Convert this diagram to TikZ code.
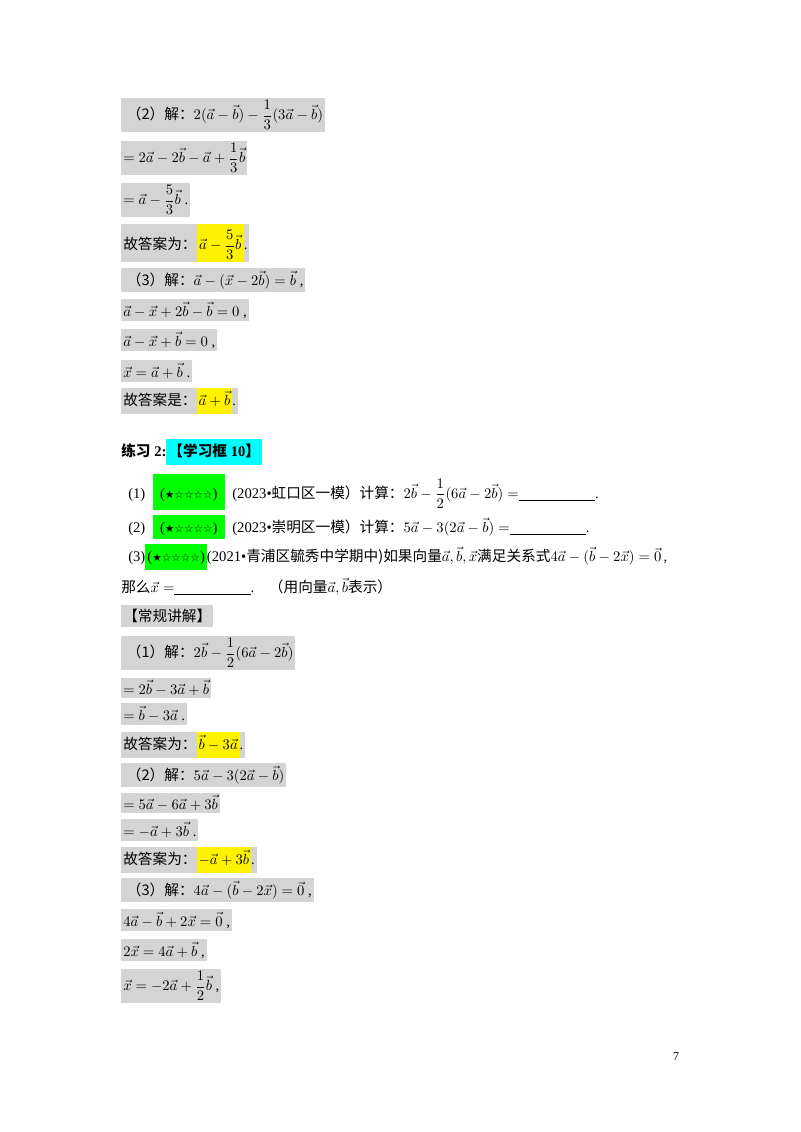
\documentclass[tikz,border=0pt]{standalone}
\usepackage{amsmath}
\usepackage{fontspec}
\setmainfont{Liberation Serif}
\newfontfamily\cjk{Noto Sans CJK SC}
\newfontfamily\sym{DejaVu Sans}
\usepackage{tikz}

\definecolor{aqua}{RGB}{0,255,255}
\definecolor{lime}{RGB}{0,255,0}
\tikzset{
  row/.style={fill=black!17, anchor=west, inner xsep=1.5pt, inner ysep=2pt, minimum height=17pt, font=\fontsize{11}{13}\selectfont},
  line/.style={anchor=west, inner sep=0pt, font=\fontsize{11}{13}\selectfont},
}
\newcommand{\hl}[2][yellow]{{\fboxsep=1.5pt\colorbox{#1}{\rule[-5pt]{0pt}{17pt}#2}}}
\newcommand{\stars}{\hl[lime]{({\sym\footnotesize ★☆☆☆☆})}}
\newcommand{\boxstars}[2]{{\fboxsep=0pt\colorbox{lime}{\rule[-#1]{0pt}{#2}\ \ ({\sym\footnotesize ★☆☆☆☆})\ \ }}}
\newcommand{\blank}{\underline{\hspace{5.2em}}}

\begin{document}
\begin{tikzpicture}[x=0.75pt,y=-0.75pt]

    % page
    \useasboundingbox (0,0) rectangle (800,1132);

    % Part (2) and (3) of previous exercise
    \node[row] (s1) at (121,115) {\ {\cjk （2）解：}$2(\vec a-\vec b)-\dfrac13(3\vec a-\vec b)$};
    \node[row] (s2) at (121,158) {$=2\vec a-2\vec b-\vec a+\dfrac13\vec b$};
    \node[row] (s3) at (121,200) {$=\vec a-\dfrac53\vec b$\ .};
    \node[row,inner ysep=0pt] (s4) at (121,243) {{\cjk 故答案为：}{\fboxsep=0pt\colorbox{yellow}{\rule[-9pt]{0pt}{28pt}\,$\vec a-\dfrac53\vec b$\,}}.};
    \node[row] (s5) at (121,280) {\ {\cjk （3）解：}$\vec a-(\vec x-2\vec b)=\vec b$\ ,};
    \node[row] (s6) at (121,310) {$\vec a-\vec x+2\vec b-\vec b=0$\ ,};
    \node[row] (s7) at (121,340) {$\vec a-\vec x+\vec b=0$\ ,};
    \node[row] (s8) at (121,371) {$\vec x=\vec a+\vec b$\ .};
    \node[row,inner ysep=0pt] (s9) at (121,401) {{\cjk 故答案是：}\hl{$\vec a+\vec b$}.};

    % Exercise 2
    \node[line] (e0) at (121,452) {{\cjk\bfseries 练习} \textbf{2:}\hl[aqua]{{\cjk\bfseries 【学习框} \textbf{10}{\cjk\bfseries 】}}};
    \node[line] (e1) at (128,492) {(1)\ \ \boxstars{9pt}{27pt}\ \ (2023•{\cjk 虹口区一模）计算：}$2\vec b-\dfrac12(6\vec a-2\vec b)=$\blank.};
    \node[line] (e2) at (128,527) {(2)\ \ \boxstars{5pt}{18pt}\ \ (2023•{\cjk 崇明区一模）计算：}$5\vec a-3(2\vec a-\vec b)=$\blank.};
    \node[line] (e3) at (128,557) {(3)\stars(2021•{\cjk 青浦区毓秀中学期中)如果向量}$\vec a,\vec b,\vec x${\cjk 满足关系式}$4\vec a-(\vec b-2\vec x)=\vec 0$\,,};
    \node[line] (e4) at (121,587) {{\cjk 那么}$\vec x=$\blank.\quad{\cjk （用向量}$\vec a,\vec b${\cjk 表示）}};

    % Solution
    \node[row] (t0) at (121,616) {{\cjk 【常规讲解】}};
    \node[row] (t1) at (121,653) {\ {\cjk （1）解：}$2\vec b-\dfrac12(6\vec a-2\vec b)$};
    \node[row,minimum height=14pt] (t2) at (121,688) {$=2\vec b-3\vec a+\vec b$};
    \node[row] (t3) at (121,714) {$=\vec b-3\vec a$\ .};
    \node[row,inner ysep=0pt] (t4) at (121,745) {{\cjk 故答案为：}\hl{$\vec b-3\vec a$}.};
    \node[row] (t5) at (121,775) {\ {\cjk （2）解：}$5\vec a-3(2\vec a-\vec b)$};
    \node[row,minimum height=14pt] (t6) at (121,803) {$=5\vec a-6\vec a+3\vec b$};
    \node[row] (t7) at (121,830) {$=-\vec a+3\vec b$\ .};
    \node[row,inner ysep=0pt] (t8) at (121,860) {{\cjk 故答案为：}\hl{$-\vec a+3\vec b$}.};
    \node[row] (t9) at (121,890) {\ {\cjk （3）解：}$4\vec a-(\vec b-2\vec x)=\vec 0$\ ,};
    \node[row] (t10) at (121,920) {$4\vec a-\vec b+2\vec x=\vec 0$\ ,};
    \node[row] (t11) at (121,950) {$2\vec x=4\vec a+\vec b$\ ,};
    \node[row] (t12) at (121,986) {$\vec x=-2\vec a+\dfrac12\vec b$\ ,};

    % page number
    \node[font=\small] (pg) at (676,1057) {7};

\end{tikzpicture}
\end{document}
